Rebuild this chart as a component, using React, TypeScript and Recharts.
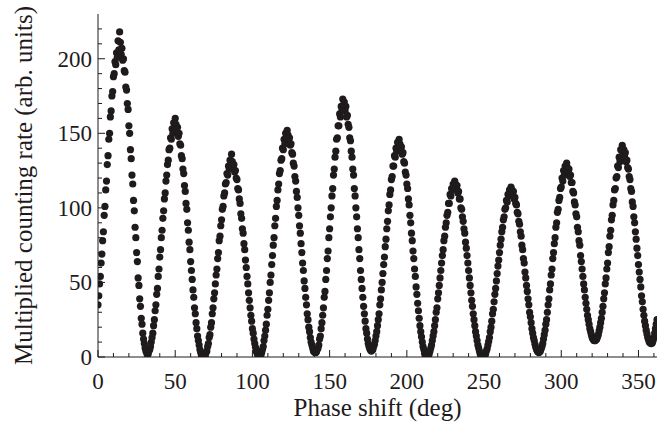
import React from 'react';
import { ScatterChart, Scatter, XAxis, YAxis } from 'recharts';

// phase scanned in 0.5 deg steps; each block starts at the phase listed in blockStarts
const PHASE_STEP = 0.5;
const blockStarts = [0, 32.5, 69, 105, 141, 177.5, 213.5, 250, 286, 322, 359];

const block0 = [35, 41, 49, 54, 63, 69, 78, 84, 95, 101, 112, 118, 129, 135, 146, 150, 161, 165, 175, 178, 188, 190, 198, 196, 204, 201, 212, 206, 218,
  211, 203, 207, 199, 200, 192, 191, 181, 179, 170, 166, 155, 150, 139, 133, 122, 116, 105, 98, 87, 80, 70, 64, 53, 48, 39, 34, 26, 22, 16, 12, 9, 6, 4, 3, 2];
const block1 = [2, 4, 5, 7, 10, 13, 16, 21, 25, 31, 35, 42, 46, 54, 59, 67, 72, 80, 85, 93, 98, 106, 110, 118, 122, 129, 132, 139, 140, 147, 146, 153, 150, 157, 152, 160,
  156, 151, 154, 148, 150, 143, 142, 135, 133, 126, 123, 115, 111, 103, 99, 90, 85, 77, 72, 64, 58, 52, 45, 40, 33, 29, 23, 19, 14, 11, 8, 5, 3, 1, 0.5, 0, 0];
const block2 = [0.5, 1, 3, 4, 7, 9, 13, 15, 20, 23, 29, 33, 39, 43, 49, 55, 59, 66, 70, 78, 81, 88, 92, 99, 101, 108, 110, 116, 117, 123, 122, 128, 126, 132, 129, 136,
  131, 127, 129, 124, 125, 120, 119, 113, 112, 106, 103, 96, 93, 86, 83, 76, 72, 65, 60, 54, 49, 43, 38, 33, 28, 24, 19, 16, 12, 9, 6.5, 4, 2.5, 1, 0.4, 0];
const block3 = [0.5, 1, 3, 5, 7, 11, 14, 18, 22, 28, 32, 38, 43, 50, 55, 62, 68, 75, 80, 88, 93, 101, 105, 112, 116, 123, 125, 132, 133, 140, 139, 146, 143, 150, 146, 152,
  149, 145, 147, 142, 143, 137, 136, 130, 128, 121, 118, 111, 107, 100, 95, 88, 83, 76, 70, 63, 58, 51, 46, 40, 35, 29, 25, 20, 17, 13, 10, 8, 6, 4, 3.5, 3];
const block4 = [3, 3.5, 5, 6, 8, 12, 14, 19, 23, 28, 33, 40, 44, 52, 58, 66, 71, 80, 86, 94, 100, 108, 113, 122, 126, 134, 138, 146, 147, 155, 155, 163, 161, 168, 165, 173, 169,
  171, 165, 168, 161, 162, 156, 154, 147, 145, 138, 134, 126, 122, 113, 108, 100, 94, 86, 80, 72, 66, 58, 52, 46, 40, 34, 29, 24, 19, 16, 12, 9, 7, 5.5, 4.5, 4];
const block5 = [4.5, 5, 7, 8.5, 11, 14, 17, 21, 25, 29, 35, 39, 45, 50, 56, 62, 67, 74, 79, 86, 91, 98, 102, 109, 112, 119, 121, 128, 128, 135, 134, 140, 138, 144, 140, 146,
  143, 139, 141, 136, 137, 131, 130, 124, 122, 116, 113, 106, 102, 95, 90, 83, 78, 71, 66, 59, 54, 47, 42, 36, 31, 26, 21, 17, 13.5, 10, 7, 5, 2.5, 1.3, 0.4, 0];
const block6 = [0.3, 1, 2, 4, 6, 8, 11, 14, 17, 21, 25, 30, 33, 39, 43, 48, 53, 58, 63, 68, 72, 78, 81, 87, 90, 95, 97, 103, 103, 109, 108, 113, 112, 116, 114, 118,
  116, 113, 115, 110, 111, 106, 106, 100, 99, 94, 91, 86, 83, 77, 73, 68, 63, 58, 53, 48, 43, 38, 34, 29, 25, 21, 17, 14, 11, 8, 6, 4, 2, 1, 0.3, 0, 0];
const block7 = [0.3, 1, 2, 4, 5.5, 8, 10.5, 13, 17, 20, 24, 29, 32, 37, 42, 46, 51, 56, 61, 65, 70, 75, 79, 84, 87, 92, 94, 99, 100, 105, 104, 109, 108, 112, 110, 114,
  112, 109, 111, 106, 107, 103, 102, 97, 96, 91, 89, 84, 81, 75, 72, 66, 63, 57, 53, 48, 44, 39, 35, 30, 27, 23, 19, 16, 13, 11, 8.5, 6.5, 5, 4, 3.3, 3];
const block8 = [3.5, 4, 5.5, 7, 9, 12, 15, 18, 22, 25, 30, 35, 39, 45, 49, 55, 59, 66, 70, 76, 80, 87, 90, 97, 99, 105, 107, 113, 114, 120, 118, 125, 122, 128, 124, 130,
  127, 124, 126, 121, 122, 117, 117, 111, 110, 104, 102, 96, 94, 87, 84, 78, 75, 68, 64, 59, 54, 49, 45, 40, 36, 32, 28, 25, 22, 19, 17, 15, 13, 12, 11.3, 11];
const block9 = [11, 11.5, 12, 13.5, 15, 17.5, 20, 23, 26, 30, 34, 39, 43, 49, 53, 59, 63, 70, 74, 81, 85, 92, 95, 102, 105, 112, 113, 120, 121, 128, 127, 134, 131, 139, 134, 142, 136,
  139, 134, 137, 131, 132, 127, 126, 121, 119, 113, 111, 104, 101, 94, 90, 84, 79, 73, 68, 62, 57, 52, 47, 41, 37, 32, 28, 24, 21, 18, 15.5, 13, 11.5, 10, 9.5, 9, 9];
const block10 = [9.5, 11, 13, 16, 19, 22, 25];

const blocks = [block0, block1, block2, block3, block4, block5, block6, block7, block8, block9, block10];

const xTicks = [0, 10, 20, 30, 40, 50, 60, 70, 80, 90, 100, 110, 120, 130, 140, 150, 160, 170, 180, 190, 200, 210, 220, 230, 240, 250, 260, 270, 280, 290, 300, 310, 320, 330, 340, 350, 360];
const yTicks = [0, 10, 20, 30, 40, 50, 60, 70, 80, 90, 100, 110, 120, 130, 140, 150, 160, 170, 180, 190, 200, 210, 220];
const xLabelTicks = [0, 50, 100, 150, 200, 250, 300, 350];
const yLabelTicks = [0, 50, 100, 150, 200];

const points = blocks.flatMap((vals, b) =>
  vals.map((v, i) => ({ phase: blockStarts[b] + i * PHASE_STEP, rate: v }))
);

const FONT = '"Liberation Serif", "Times New Roman", serif';
const INK = '#1f1b1c';
const MAJOR = 7;
const MINOR = 4;

const BottomTick = (props: any) => {
  const { x, y, payload } = props;
  const major = xLabelTicks.includes(payload.value);
  return (
    <g>
      <line x1={x} y1={y} x2={x} y2={y - (major ? MAJOR : MINOR)} stroke={INK} strokeWidth={1} />
      {major && (
        <text x={x} y={y + 32} textAnchor="middle" style={{ fontFamily: FONT, fontSize: 23 }} fill={INK}>
          {payload.value}
        </text>
      )}
    </g>
  );
};

const TopTick = (props: any) => {
  const { x, y, payload } = props;
  const major = xLabelTicks.includes(payload.value);
  return <line x1={x} y1={y} x2={x} y2={y + (major ? MAJOR : MINOR)} stroke={INK} strokeWidth={1} />;
};

const LeftTick = (props: any) => {
  const { x, y, payload } = props;
  const major = yLabelTicks.includes(payload.value);
  return (
    <g>
      <line x1={x} y1={y} x2={x + (major ? MAJOR : MINOR)} y2={y} stroke={INK} strokeWidth={1} />
      {major && (
        <text x={x - 6} y={y + 8} textAnchor="end" style={{ fontFamily: FONT, fontSize: 23 }} fill={INK}>
          {payload.value}
        </text>
      )}
    </g>
  );
};

const RightTick = (props: any) => {
  const { x, y, payload } = props;
  const major = yLabelTicks.includes(payload.value);
  return <line x1={x} y1={y} x2={x - (major ? MAJOR : MINOR)} y2={y} stroke={INK} strokeWidth={1} />;
};

const Dot = (props: any) => <circle cx={props.cx} cy={props.cy} r={3.6} fill={INK} />;

export default function App() {
  return (
    <div style={{ position: 'absolute', left: 0, top: 0, width: 672, height: 440, background: '#fff' }}>
      <ScatterChart width={672} height={440} margin={{ top: 14, right: 15, bottom: 0, left: 0 }}>
        <XAxis
          xAxisId="bottom"
          type="number"
          dataKey="phase"
          domain={[0, 362]}
          allowDataOverflow
          ticks={xTicks}
          interval={0}
          height={83}
          tickSize={0}
          tickMargin={0}
          tickLine={false}
          tick={<BottomTick />}
          axisLine={{ stroke: INK }}
          label={{
            content: (p: any) => {
              const vb = p.viewBox;
              return (
                <text x={vb.x + vb.width / 2} y={vb.y + 59} textAnchor="middle" style={{ fontFamily: FONT, fontSize: 25 }} fill={INK}>
                  Phase shift (deg)
                </text>
              );
            },
          }}
        />
        <XAxis
          xAxisId="top"
          orientation="top"
          type="number"
          dataKey="phase"
          domain={[0, 362]}
          allowDataOverflow
          ticks={xTicks}
          interval={0}
          height={0}
          tickSize={0}
          tickMargin={0}
          tickLine={false}
          tick={<TopTick />}
          axisLine={{ stroke: INK }}
        />
        <YAxis
          yAxisId="left"
          type="number"
          dataKey="rate"
          domain={[0, 230]}
          allowDataOverflow
          ticks={yTicks}
          interval={0}
          width={98}
          tickSize={0}
          tickMargin={0}
          tickLine={false}
          tick={<LeftTick />}
          axisLine={{ stroke: INK }}
          label={{
            content: (p: any) => {
              const vb = p.viewBox;
              const cx = vb.x + 23;
              const cy = vb.y + vb.height / 2;
              return (
                <text
                  x={cx}
                  y={cy}
                  transform={`rotate(-90 ${cx} ${cy})`}
                  textAnchor="middle"
                  dominantBaseline="central"
                  style={{ fontFamily: FONT, fontSize: 25 }}
                  fill={INK}
                >
                  Multiplied counting rate (arb. units)
                </text>
              );
            },
          }}
        />
        <YAxis
          yAxisId="right"
          orientation="right"
          type="number"
          dataKey="rate"
          domain={[0, 230]}
          allowDataOverflow
          ticks={yTicks}
          interval={0}
          width={0}
          tickSize={0}
          tickMargin={0}
          tickLine={false}
          tick={<RightTick />}
          axisLine={{ stroke: INK }}
        />
        <Scatter
          data={points}
          xAxisId="bottom"
          yAxisId="left"
          fill={INK}
          shape={<Dot />}
          isAnimationActive={false}
        />
        <Scatter data={[]} xAxisId="top" yAxisId="right" isAnimationActive={false} />
      </ScatterChart>
    </div>
  );
}
